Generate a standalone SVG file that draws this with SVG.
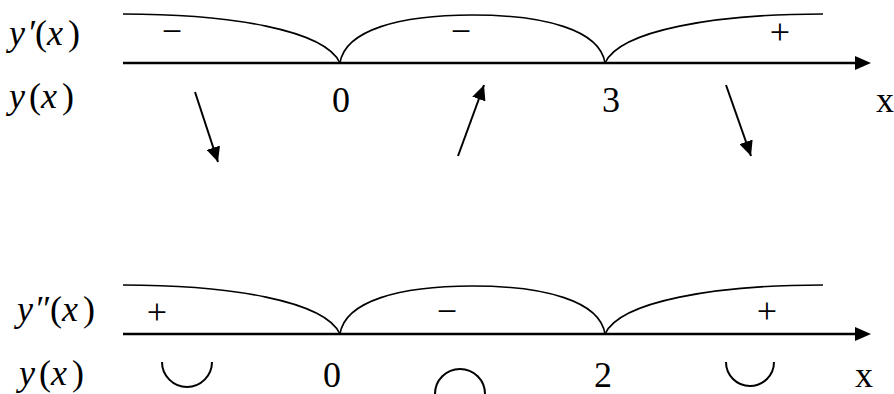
<svg xmlns="http://www.w3.org/2000/svg" width="894" height="394" viewBox="0 0 894 394">
<style>
  text{font-family:'Liberation Serif','Times New Roman',serif;font-size:36px;fill:#000}
  .i{font-style:italic}
  .c{text-anchor:middle}
  .curve{fill:none;stroke:#000;stroke-width:1.6}
  .axis{fill:none;stroke:#000;stroke-width:2.6}
  .arr{fill:none;stroke:#000;stroke-width:2;marker-end:url(#ah)}
  .bow{fill:none;stroke:#000;stroke-width:2}
</style>
<defs>
  <marker id="ah" markerUnits="userSpaceOnUse" markerWidth="16" markerHeight="14" refX="15" refY="7" orient="auto">
    <path d="M0,0 L15,7 L0,14 Z" fill="#000"/>
  </marker>
</defs>
<rect width="894" height="394" fill="#fff"/>

<g id="top-row">
  <text y="45"><tspan class="i" x="9">y</tspan><tspan class="i" x="27">′</tspan><tspan x="35">(</tspan><tspan class="i" x="47">x</tspan><tspan x="68">)</tspan></text>
  <text y="108"><tspan class="i" x="9">y</tspan><tspan x="29">(</tspan><tspan class="i" x="41">x</tspan><tspan x="62">)</tspan></text>
  <path class="axis" d="M123,63 H857"/>
  <path d="M855,56 L871,63 L855,70 Z" fill="#000"/>
  <path class="curve" d="M123,14 C230,14 325,30 340,63"/>
  <path class="curve" d="M340,63 C345,30 400,15 472,15 C545,15 600,30 605,63"/>
  <path class="curve" d="M605,63 C620,30 716,14 823,14"/>
  <text class="c" x="172" y="43">−</text>
  <text class="c" x="461" y="43">−</text>
  <text class="c" x="780" y="44">+</text>
  <text class="c" x="341" y="112">0</text>
  <text class="c" x="611" y="112">3</text>
  <text class="c" x="885" y="112">x</text>
</g>

<g id="connectors">
  <path class="arr" d="M195,92 L218,162"/>
  <path class="arr" d="M458,156 L484,85"/>
  <path class="arr" d="M726,85 L751,156"/>
</g>

<g id="bottom-row">
  <text y="321"><tspan class="i" x="17">y</tspan><tspan class="i" x="34">″</tspan><tspan x="50">(</tspan><tspan class="i" x="62">x</tspan><tspan x="83">)</tspan></text>
  <text y="385"><tspan class="i" x="19">y</tspan><tspan x="39">(</tspan><tspan class="i" x="51">x</tspan><tspan x="72">)</tspan></text>
  <path class="axis" d="M123,334 H857"/>
  <path d="M855,327 L871,334 L855,341 Z" fill="#000"/>
  <path class="curve" d="M123,285 C230,285 325,301 340,334"/>
  <path class="curve" d="M340,334 C345,301 400,286 472,286 C545,286 600,301 605,334"/>
  <path class="curve" d="M605,334 C620,301 716,285 823,285"/>
  <text class="c" x="157" y="324">+</text>
  <text class="c" x="447" y="323">−</text>
  <text class="c" x="767" y="323">+</text>
  <text class="c" x="332" y="387">0</text>
  <text class="c" x="603" y="387">2</text>
  <text class="c" x="864" y="387">x</text>
  <path class="bow" d="M162,362 A25,25 0 0 0 212,362"/>
  <path class="bow" d="M435,394 A25,25 0 0 1 485,394"/>
  <path class="bow" d="M726,362 A24,24 0 0 0 774,362"/>
</g>
</svg>
